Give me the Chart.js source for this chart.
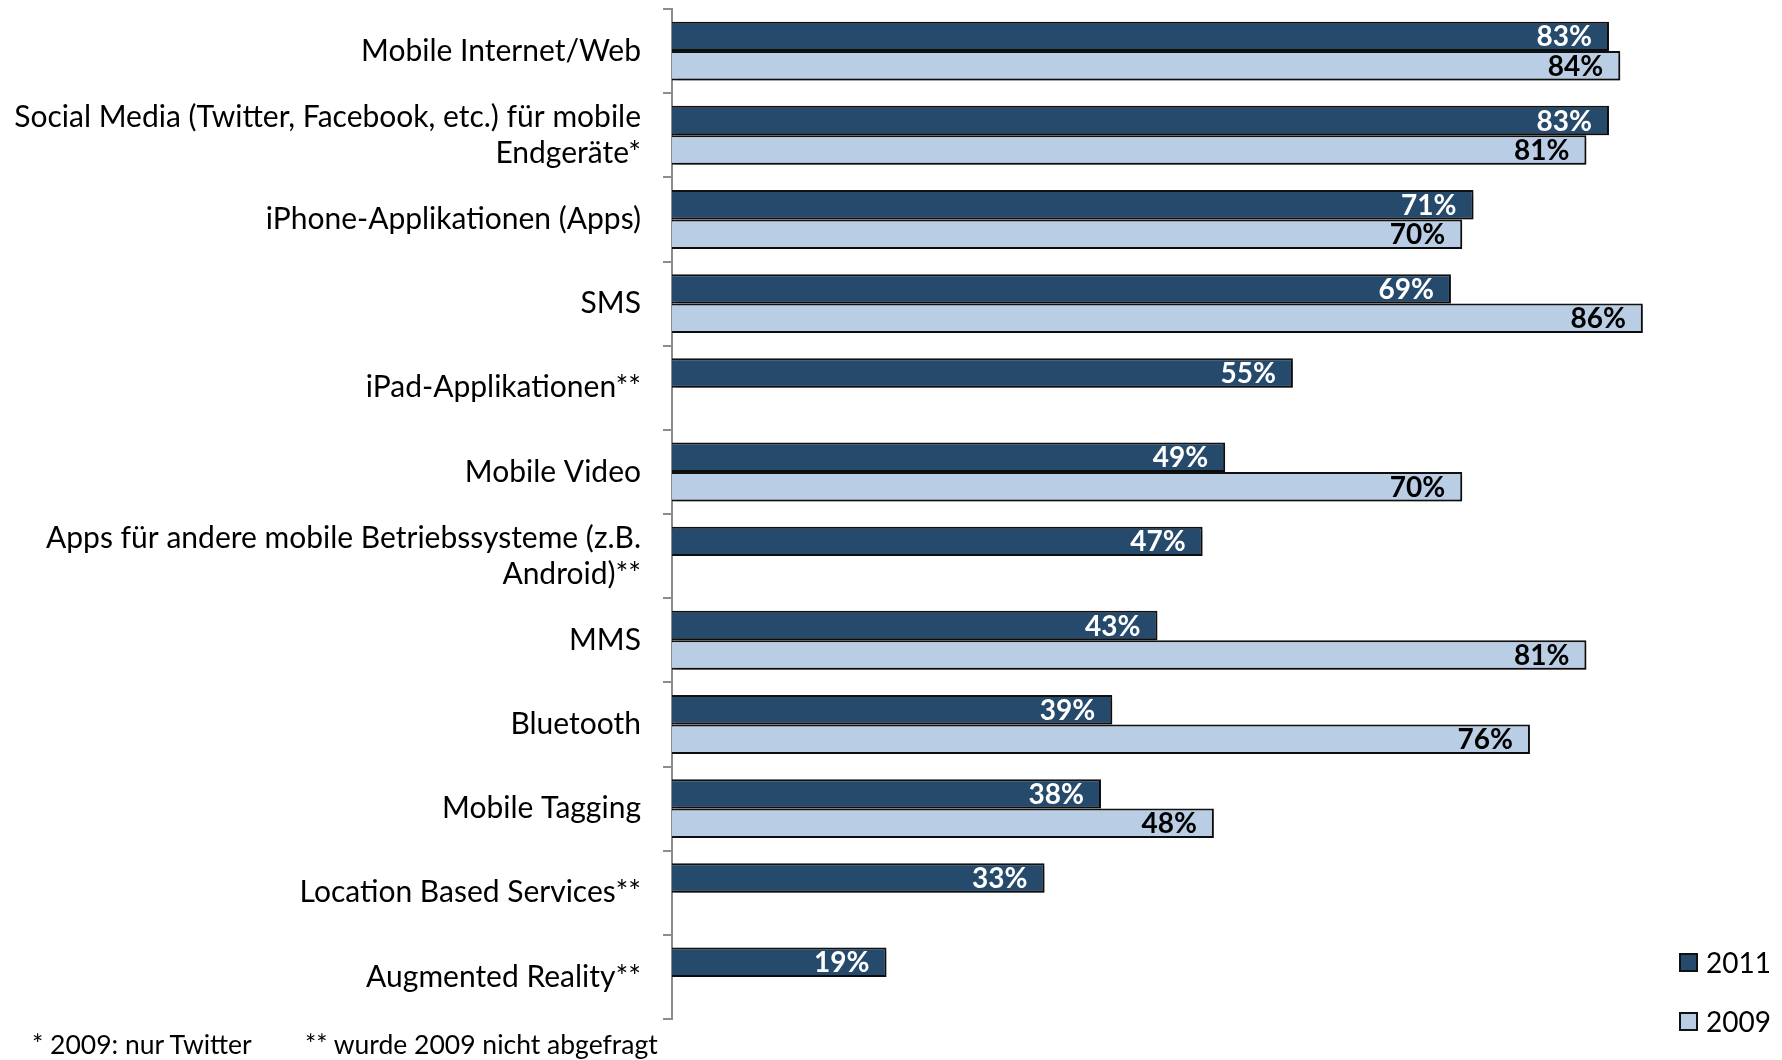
<!DOCTYPE html>
<html>
<head>
<meta charset="utf-8">
<script src="https://cdn.jsdelivr.net/npm/chart.js@4.4.1/dist/chart.umd.min.js"></script>
<style>
  html,body{margin:0;padding:0;background:#fff;}
  #wrap{position:relative;width:1782px;height:1060px;font-family:Lato,"Noto Sans",sans-serif;}
  #chart{position:absolute;left:0;top:0;}
  .leg{position:absolute;left:1679px;font-size:28px;color:#000;display:flex;align-items:center;}
  .leg i{display:inline-block;width:15px;height:15px;border:2px solid #111;margin-right:8px;}
  .note{position:absolute;top:1028px;font-size:26.5px;color:#000;}
</style>
</head>
<body>
<div id="wrap">
  <canvas id="chart" width="1782" height="1060"></canvas>
  <div class="leg" style="top:945px"><i style="background:#264a6c"></i>2011</div>
  <div class="leg" style="top:1004px"><i style="background:#b9cde4"></i>2009</div>
  <div class="note" style="left:32px">* 2009: nur Twitter</div>
  <div class="note" style="left:305px">** wurde 2009 nicht abgefragt</div>
</div>
<script>
// ── data ──────────────────────────────────────────────
const categories=[
  'Mobile Internet/Web',
  ['Social Media (Twitter, Facebook, etc.) für mobile','Endgeräte*'],
  'iPhone-Applikationen (Apps)',
  'SMS',
  'iPad-Applikationen**',
  'Mobile Video',
  ['Apps für andere mobile Betriebssysteme (z.B.','Android)**'],
  'MMS',
  'Bluetooth',
  'Mobile Tagging',
  'Location Based Services**',
  'Augmented Reality**'
];
const values2011=[83,83,71,69,55,49,47,43,39,38,33,19];
const values2009=[84,81,70,86,null,70,null,81,76,48,null,null];
const seriesNames=['2011','2009'];

const AXIS_X=672;

// bar shadow + value labels
const barDeco={
  id:'barDeco',
  beforeDatasetsDraw(chart){
    const c=chart.ctx;
    c.save();
    c.shadowColor='rgba(0,0,0,0.35)';
    c.shadowBlur=5;c.shadowOffsetX=3;c.shadowOffsetY=3;
  },
  afterDatasetsDraw(chart){
    const c=chart.ctx;
    c.restore();
    c.save();
    c.font='bold 28px Lato, "Noto Sans", sans-serif';
    c.textAlign='right';c.textBaseline='middle';
    chart.data.datasets.forEach((ds,i)=>{
      const meta=chart.getDatasetMeta(i);
      c.fillStyle=i===0?'#ffffff':'#000000';
      meta.data.forEach((el,j)=>{
        const v=ds.data[j];
        if(v==null) return;
        c.fillText(v+'%',el.x-17,el.y+1);
      });
    });
    c.restore();
  }
};

new Chart(document.getElementById('chart'),{
  type:'bar',
  data:{
    labels:categories,
    datasets:[
      {label:seriesNames[0],data:values2011,backgroundColor:'#264a6c',borderColor:'#111111',borderWidth:2},
      {label:seriesNames[1],data:values2009,backgroundColor:'#b9cde4',borderColor:'#111111',borderWidth:2}
    ]
  },
  options:{
    indexAxis:'y',
    responsive:false,
    animation:false,
    categoryPercentage:0.7,
    barPercentage:1,
    layout:{padding:{left:0,right:94,top:9,bottom:41}},
    plugins:{legend:{display:false},tooltip:{enabled:false}},
    scales:{
      x:{display:false,min:0,max:90},
      y:{
        afterFit:s=>{s.width=AXIS_X;s.paddingTop=0;s.paddingBottom=0;},
        border:{display:true,color:'#8c8c8c',width:2},
        grid:{offset:true,drawOnChartArea:false,drawTicks:true,tickLength:9,color:'#8c8c8c',lineWidth:2},
        ticks:{color:'#000',padding:22,font:{family:'Lato, "Noto Sans", sans-serif',size:30,lineHeight:1.2}}
      }
    }
  },
  plugins:[barDeco]
});
</script>
</body>
</html>
